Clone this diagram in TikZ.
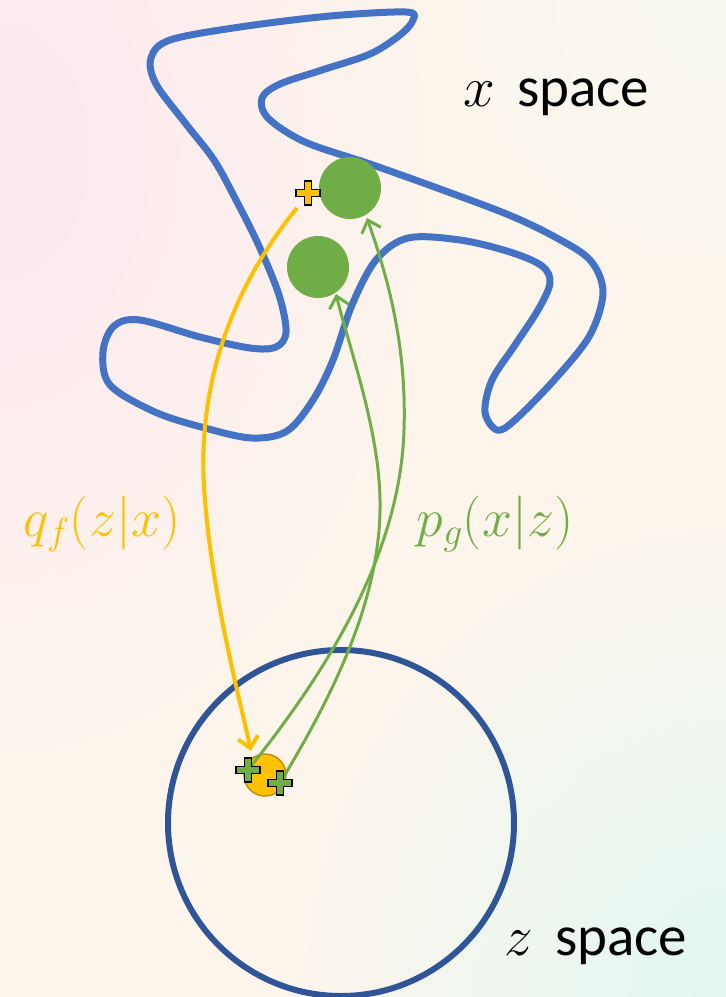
\documentclass[tikz,border=0pt]{standalone}
\usepackage{fix-cm}
\usepackage{fontspec}
\setmainfont{Carlito}
\usetikzlibrary{arrows.meta,fadings}
\definecolor{xblue}{HTML}{4472C4}
\definecolor{zblue}{HTML}{2F5597}
\definecolor{xgreen}{HTML}{70AD47}
\definecolor{xorange}{HTML}{FFC000}
\definecolor{dorange}{HTML}{BF9000}
\definecolor{bgcream}{HTML}{FDF5EC}
\definecolor{bgpink}{HTML}{FCE7F0}
\definecolor{bgmint}{HTML}{E2F8F2}
\definecolor{bgpale}{HTML}{F8F9F0}
\tikzfading[name=softspot, inner color=transparent!0, outer color=transparent!100]
\tikzset{
  pics/plusmark/.style={code={
    \filldraw[fill=#1,draw=black,line width=1.8pt,line join=miter]
      (-12,-3.5) -- (-3.5,-3.5) -- (-3.5,-12) -- (3.5,-12) -- (3.5,-3.5) -- (12,-3.5)
      -- (12,3.5) -- (3.5,3.5) -- (3.5,12) -- (-3.5,12) -- (-3.5,3.5) -- (-12,3.5) -- cycle;
  }},
  blob/.style={circle,fill=xgreen,minimum size=62pt,inner sep=0pt},
  arr/.style={-{Straight Barb[length=11pt,width=20pt]},line width=#1},
  spacelabel/.style={anchor=base west,inner sep=0pt,font=\fontsize{57}{60}\selectfont},
  mathlabel/.style={inner sep=0pt,font=\fontsize{54}{58}\selectfont}
}
\begin{document}
\begin{tikzpicture}[x=1pt,y=-1pt]
\useasboundingbox (0,0) rectangle (726,997);
% background
\fill[bgcream] (0,0) rectangle (726,997);
\begin{scope}
\clip (0,0) rectangle (726,997);
\fill[bgpale,path fading=softspot,fit fading=true] (386,-340) rectangle (1066,340);
\fill[bgpink,path fading=softspot,fit fading=true] (-420,-450) rectangle (420,750);
\fill[bgmint,path fading=softspot,fit fading=true] (276,497) rectangle (1176,1497);
\end{scope}
% x space manifold
\draw[xblue,line width=7pt,line join=round] plot[smooth cycle,tension=0.55] coordinates {
 (406,12) (330,16) (240,27) (170,40) (151,58) (156,84) (186,124) (214,160) (236,200)
 (259,246) (279,295) (286,332) (276,347) (250,348) (200,337) (140,320) (114,326)
 (103,352) (110,385) (155,412) (205,428) (252,438) (287,431) (313,400) (333,360)
 (352,305) (376,260) (408,238) (460,240) (510,252) (542,266) (550,283) (538,310)
 (515,345) (492,380) (485,412) (497,430) (515,420) (556,378) (590,335) (603,292)
 (590,260) (555,237) (509,215) (440,189) (370,164) (305,142) (268,118) (262,98) (280,84)
 (322,70) (370,54) (400,35) (413,20)};
% z space
\node[draw=zblue,line width=6pt,circle,minimum size=346pt,inner sep=0pt] (zspace) at (341,823) {};
% points
\node[blob] (xa) at (350,188) {};
\node[blob] (xb) at (318,267) {};
\node[circle,fill=xorange,draw=dorange,line width=1.5pt,minimum size=42pt,inner sep=0pt] (zmean) at (265,775) {};
\coordinate (xpt) at (308,193);
\coordinate (za) at (248,770);
\coordinate (zb) at (280,783);
\coordinate (qs) at (297,208);
\coordinate (qe) at (251,751);
\coordinate (pa) at (367,218);
\coordinate (pb) at (336,294);
% encoder
\draw[xorange,arr=4pt] (qs) .. controls (230,290) and (195,390) .. (205,500)
   .. controls (213,600) and (240,700) .. (qe);
% decoder
\draw[xgreen,arr=3pt] (za) .. controls (320,680) and (400,560) .. (404,430)
   .. controls (407,340) and (385,270) .. (pa);
\draw[xgreen,arr=3pt] (zb) .. controls (330,700) and (382,600) .. (380,500)
   .. controls (379,430) and (350,350) .. (pb);
% crosses
\pic at (xpt) {plusmark=xorange};
\pic at (za) {plusmark=xgreen};
\pic at (zb) {plusmark=xgreen};
% labels
\node[spacelabel] (xlab) at (463,106) {$x$\, space};
\node[spacelabel] (zlab) at (504,955) {$z$\, space};
\node[mathlabel,text=xorange] (qlab) at (102,524) {$q_f(z|x)$};
\node[mathlabel,text=xgreen] (plab) at (495,524) {$p_g(x|z)$};
\end{tikzpicture}
\end{document}
